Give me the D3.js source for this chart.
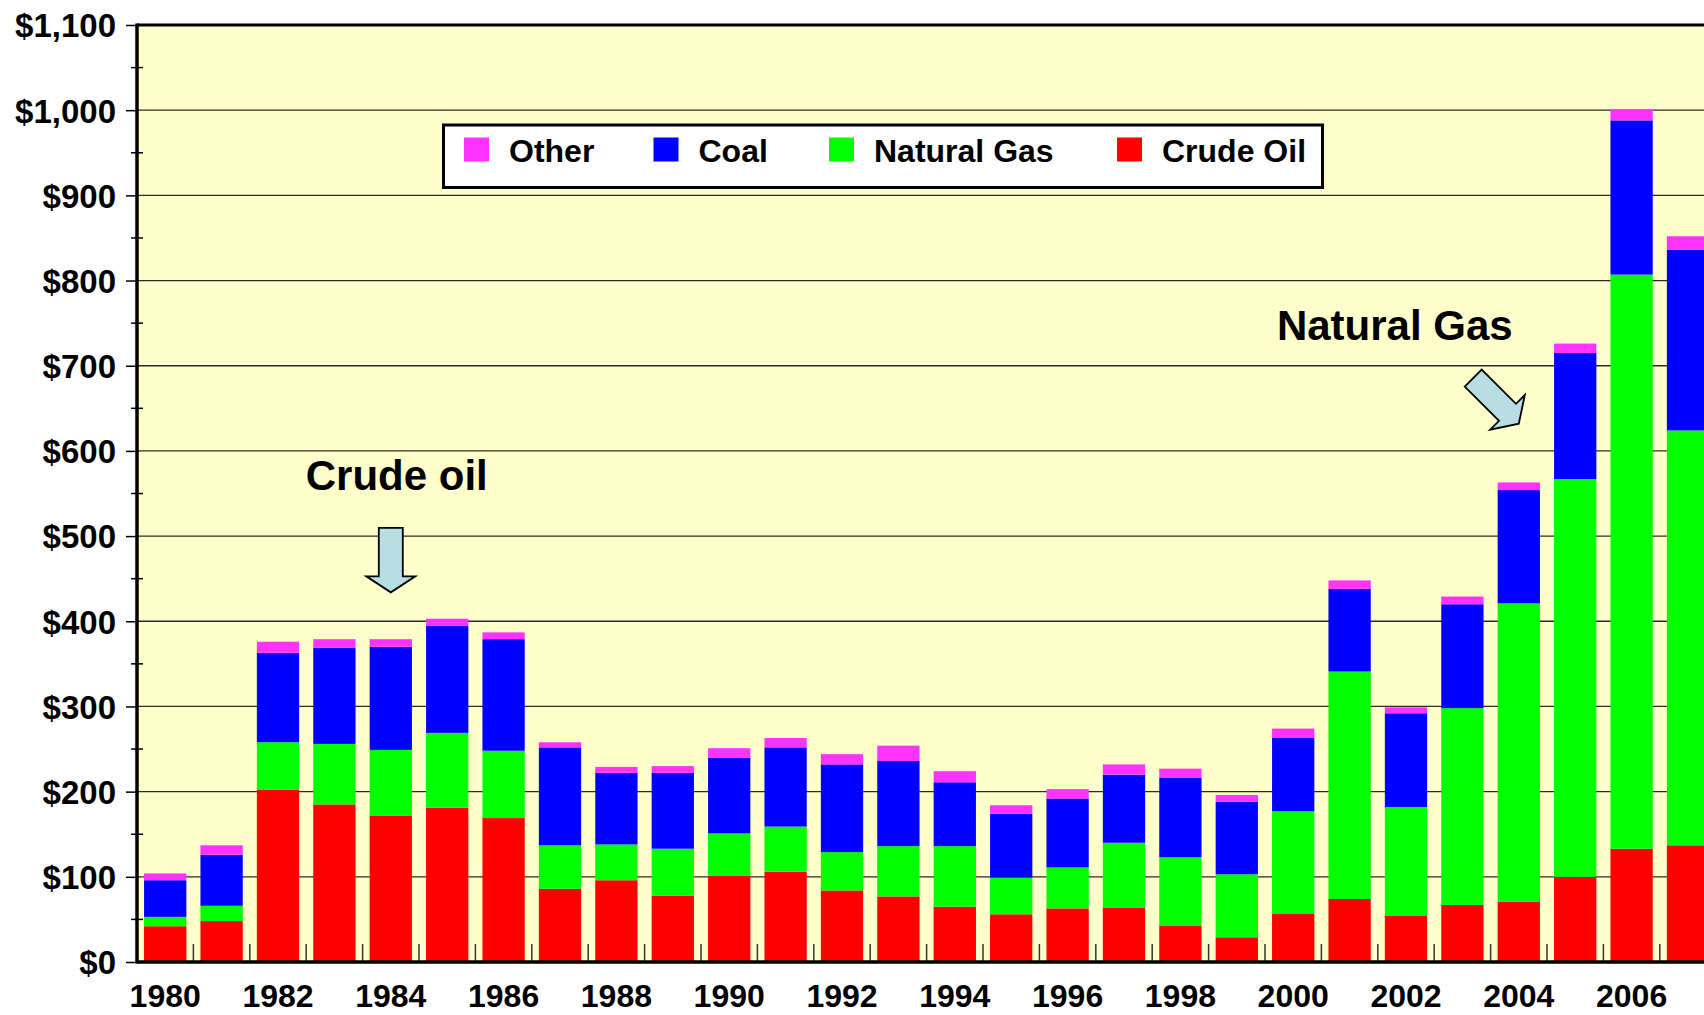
<!DOCTYPE html>
<html><head><meta charset="utf-8">
<script src="https://cdn.jsdelivr.net/npm/d3@7"></script>
<style>
html,body{margin:0;padding:0;background:#fff;overflow:hidden}
svg{display:block;font-family:"Liberation Sans",Arial,Helvetica,sans-serif;font-weight:bold}
</style>
</head><body>
<svg id="c" width="1704" height="1015"></svg>
<script>
// ---- data ----
const years = [1980,1981,1982,1983,1984,1985,1986,1987,1988,1989,1990,1991,1992,1993,1994,1995,1996,1997,1998,1999,2000,2001,2002,2003,2004,2005,2006,2007];
const crudeOil   = [42,48,202,185,172,181,169,86,96,78,101,106,84,77,65,56,63,64,43,29,57,74,54,67,71,100,133,137];
const naturalGas = [11,18,56,71,77,88,79,51,42,55,50,53,45,59,71,43,48,76,80,74,120,267,128,231,350,467,674,487];
const coal       = [43,60,105,113,121,126,131,115,84,89,89,93,103,100,75,75,81,80,93,85,86,97,110,122,133,148,181,212];
const other      = [8,11,13,10,9,8,8,6,7,8,11,11,12,18,13,10,11,12,11,8,11,10,7,9,9,11,13,16];
const seriesNames  = ["Crude Oil","Natural Gas","Coal","Other"];
const seriesColors = ["#FF0000","#00FF00","#0000FF","#FF33FF"];
const legendOrder  = ["Other","Coal","Natural Gas","Crude Oil"];
const yTickValues  = [0,100,200,300,400,500,600,700,800,900,1000,1100];
const xTickLabels  = [1980,1982,1984,1986,1988,1990,1992,1994,1996,1998,2000,2002,2004,2006];
const annotations  = [
  {text:"Crude oil",   year:1984, textDx:6,    textValue:554, arrowValue:434, angle:0},
  {text:"Natural Gas", year:2004, textDx:-124, textValue:730, arrowValue:632, angle:-45}
];

// ---- build ----
(function(){
const svg = d3.select("#c");
const W = 1704;
const pLeft = 137, pTop = 25, pBottom = 962, step = 56.4;
const rows = years.map((yr,i)=>({year:yr,"Crude Oil":crudeOil[i],"Natural Gas":naturalGas[i],"Coal":coal[i],"Other":other[i]}));
const color = d3.scaleOrdinal().domain(seriesNames).range(seriesColors);

const x = d3.scaleBand().domain(years).range([pLeft, pLeft + step*years.length]).paddingInner(0.25).paddingOuter(0.125);
const y = d3.scaleLinear().domain([0,1100]).range([pBottom, pTop]);

// plot background
svg.append("rect").attr("x",pLeft).attr("y",pTop).attr("width",W-pLeft).attr("height",pBottom-pTop).attr("fill","#FFFFCC");

// gridlines
svg.append("g").selectAll("line").data(yTickValues.filter(v=>v>0 && v<1100)).join("line")
  .attr("x1",pLeft).attr("x2",W).attr("y1",d=>y(d)).attr("y2",d=>y(d))
  .attr("stroke","#2a2a2a").attr("stroke-width",1.3);

// bars
const stack = d3.stack().keys(seriesNames)(rows);
svg.append("g").selectAll("g").data(stack).join("g").attr("fill",d=>color(d.key))
  .selectAll("rect").data(d=>d).join("rect")
  .attr("x",d=>x(d.data.year)).attr("width",x.bandwidth())
  .attr("y",d=>y(d[1])).attr("height",d=>y(d[0])-y(d[1]));

// bottom category boundary ticks
const bounds = years.slice(1).map(yr=>x(yr) - x.step()*x.paddingInner()/2);
svg.append("g").selectAll("line").data(bounds).join("line")
  .attr("x1",d=>d).attr("x2",d=>d).attr("y1",pBottom-18).attr("y2",pBottom)
  .attr("stroke","#333").attr("stroke-width",1.5);

// y axis
const yAxis = d3.axisLeft(y).tickValues(yTickValues).tickFormat(d3.format("$,")).tickSize(11).tickPadding(10);
const ga = svg.append("g").attr("transform",`translate(${pLeft},0)`).call(yAxis);
ga.select(".domain").remove();
ga.selectAll(".tick line").attr("stroke","#000").attr("stroke-width",1.5);
ga.selectAll(".tick text").attr("font-size",33).attr("font-weight","bold").attr("fill","#000")
  .attr("font-family",'"Liberation Sans",Arial,sans-serif').attr("dy","0.36em");
// minor ticks
svg.append("g").selectAll("line").data(d3.range(50,1100,100)).join("line")
  .attr("x1",pLeft-6).attr("x2",pLeft+6).attr("y1",d=>y(d)).attr("y2",d=>y(d))
  .attr("stroke","#000").attr("stroke-width",1.5);

// x labels
svg.append("g").selectAll("text").data(xTickLabels).join("text")
  .attr("x",d=>x(d)+x.bandwidth()/2).attr("y",1007).attr("text-anchor","middle")
  .attr("font-size",32).attr("fill","#000").text(d=>d);

// axis lines & top border
svg.append("line").attr("x1",pLeft).attr("x2",W).attr("y1",pTop).attr("y2",pTop).attr("stroke","#000").attr("stroke-width",3);
svg.append("line").attr("x1",pLeft).attr("x2",pLeft).attr("y1",pTop-1.5).attr("y2",pBottom+1.5).attr("stroke","#000").attr("stroke-width",3.5);
svg.append("line").attr("x1",pLeft).attr("x2",W).attr("y1",pBottom).attr("y2",pBottom).attr("stroke","#000").attr("stroke-width",3.5);

// legend
const lg = svg.append("g");
lg.append("rect").attr("x",443.5).attr("y",125).attr("width",879).attr("height",62.5)
  .attr("fill","#fff").attr("stroke","#000").attr("stroke-width",3);
const legendX = [464,653.5,829,1117];
legendOrder.forEach((name,i)=>{
  lg.append("rect").attr("x",legendX[i]).attr("y",137.5).attr("width",25).attr("height",24).attr("fill",color(name));
  lg.append("text").attr("x",legendX[i]+45).attr("y",161.5).attr("font-size",32).attr("fill","#000").text(name);
});

// annotations
const arrowPath = "M-12,-64.5 L12,-64.5 L12,-16 L24.5,-16 L0,0 L-24.5,-16 L-12,-16 Z";
annotations.forEach(a=>{
  const cx = x(a.year)+x.bandwidth()/2;
  svg.append("text").attr("x",cx+a.textDx).attr("y",y(a.textValue)).attr("text-anchor","middle")
    .attr("font-size",42).attr("fill","#000").text(a.text);
  svg.append("path").attr("d",arrowPath)
    .attr("transform",`translate(${cx},${y(a.arrowValue)}) rotate(${a.angle})`)
    .attr("fill","#B7DEE3").attr("stroke","#000").attr("stroke-width",1.8).attr("stroke-linejoin","miter");
});
})();
</script>
</body></html>
